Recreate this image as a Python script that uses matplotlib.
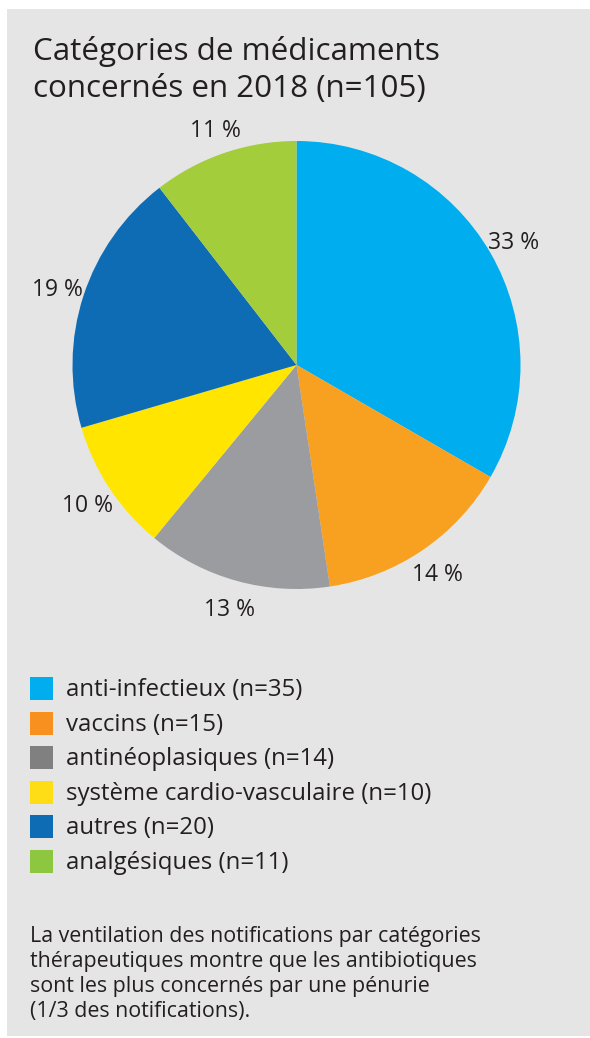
import matplotlib.pyplot as plt
from matplotlib.patches import Rectangle

categories = ["anti-infectieux (n=35)", "vaccins (n=15)", "antinéoplasiques (n=14)",
              "système cardio-vasculaire (n=10)", "autres (n=20)", "analgésiques (n=11)"]
counts = [35, 15, 14, 10, 20, 11]
pct_labels = ["33 %", "14 %", "13 %", "10 %", "19 %", "11 %"]
pie_colors = ["#00adee", "#f8a01f", "#9a9c9f", "#ffe500", "#0e6cb5", "#a3cd3b"]
legend_colors = ["#00adee", "#f7901e", "#808080", "#ffdd16", "#0e6cb5", "#8dc63f"]

title = "Catégories de médicaments\nconcernés en 2018 (n=105)"
note = ("La ventilation des notifications par catégories\n"
        "thérapeutiques montre que les antibiotiques\n"
        "sont les plus concernés par une pénurie\n"
        "(1/3 des notifications).")

plt.rcParams['font.family'] = ['Open Sans', 'DejaVu Sans']
W, H = 590, 1038
txt = "#231f20"

fig = plt.figure(figsize=(W / 100, H / 100), dpi=100)
fig.patch.set_facecolor("white")
# gray panel
fig.patches.append(Rectangle((7 / W, 2 / H), 583 / W, 1027 / H, transform=fig.transFigure,
                             facecolor="#e5e5e5", edgecolor="none", zorder=-5))

# pie
cx, cy, r = 296.5, 365, 224
ax = fig.add_axes([(cx - r) / W, (H - cy - r) / H, 2 * r / W, 2 * r / H])
ax.set_zorder(2)
wedges, texts = ax.pie(counts, labels=pct_labels, colors=pie_colors, startangle=90,
                       counterclock=False, labeldistance=1.12,
                       textprops=dict(fontsize=16.5, color=txt),
                       wedgeprops=dict(linewidth=0))
for t in texts:
    t.set_ha("center")
    t.set_va("center_baseline")
ax.set_xlim(-1, 1)
ax.set_ylim(-1, 1)
ax.set_aspect("auto")
ax.axis("off")

fig.text(33 / W, 1 - 97 / H, title, fontsize=22.6, color=txt, va="baseline",
         linespacing=1.3)

# legend
y0, step = 688.5, 34.6
for i, (lab, col) in enumerate(zip(categories, legend_colors)):
    yc = y0 + i * step
    fig.patches.append(Rectangle((30 / W, 1 - (yc + 11.5) / H), 23 / W, 23 / H,
                                 transform=fig.transFigure, facecolor=col, edgecolor="none"))
    fig.text(66 / W, 1 - (yc + 1.5) / H, lab, fontsize=17.3, color=txt, va="center")

fig.text(30 / W, 1 - 926 / H, note, fontsize=15.4, color=txt, va="top", linespacing=1.26)

fig.savefig("out.png", dpi=100)
